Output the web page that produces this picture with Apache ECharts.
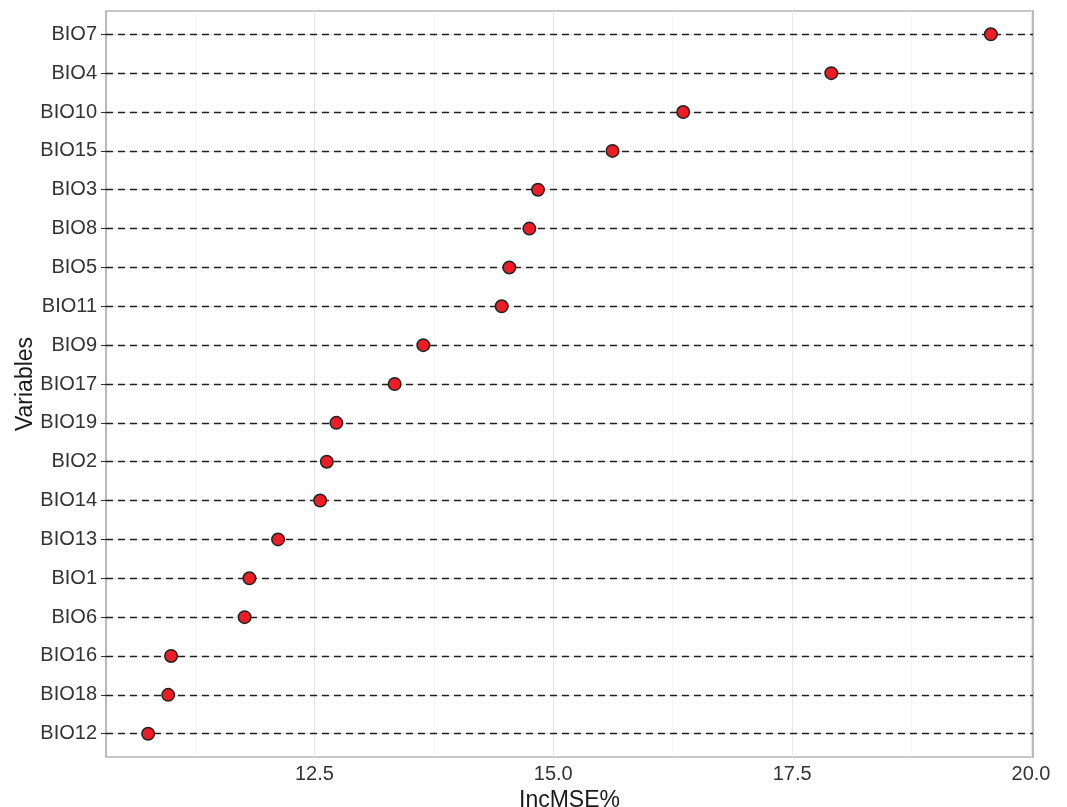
<!DOCTYPE html>
<html>
<head>
<meta charset="utf-8">
<script src="https://cdn.jsdelivr.net/npm/echarts@6/dist/echarts.min.js"></script>
<style>
  html, body { margin: 0; padding: 0; background: #fff; }
  #chart { width: 1067px; height: 807px; }
</style>
</head>
<body>
<div id="chart"></div>
<script>
// variables, top to bottom
const variables = ['BIO7', 'BIO4', 'BIO10', 'BIO15', 'BIO3', 'BIO8', 'BIO5', 'BIO11', 'BIO9', 'BIO17',
  'BIO19', 'BIO2', 'BIO14', 'BIO13', 'BIO1', 'BIO6', 'BIO16', 'BIO18', 'BIO12'];
const incMSE = [19.58, 17.91, 16.36, 15.62, 14.84, 14.75, 14.54, 14.46, 13.64, 13.34,
  12.73, 12.63, 12.56, 12.12, 11.82, 11.77, 11.00, 10.97, 10.76];
const xTicks = [12.5, 15, 17.5, 20];
const xMinorTicks = [11.25, 13.75, 16.25, 18.75];

const font = 'Liberation Sans, Arial, Helvetica, sans-serif';
const idx = variables.map((_, i) => i);

// ggplot-like 5% expansion on x, 0.6 on the discrete y
const lo = Math.min(...incMSE), hi = Math.max(...incMSE);
const pad = (hi - lo) * 0.05;

const lineMark = (z, data) => ({
  z: z,
  symbol: ['none', 'none'],
  silent: true,
  animation: false,
  label: { show: false },
  emphasis: { disabled: true },
  data: data,
});

const myChart = echarts.init(document.getElementById('chart'));

const option = {
  animation: false,
  grid: {
    left: 106, right: 34, top: 11, bottom: 50,
    outerBoundsMode: 'none',
    containLabel: false,
    show: true,
    borderColor: '#8f8f8f',
    borderWidth: 1.2,
    backgroundColor: 'transparent',
  },
  xAxis: {
    type: 'value',
    min: lo - pad,
    max: hi + pad,
    name: 'IncMSE%',
    nameLocation: 'middle',
    nameGap: 25,
    nameTextStyle: { fontFamily: font, fontSize: 23, color: '#1a1a1a' },
    axisLine: { show: false },
    axisTick: {
      show: true, length: 5, customValues: xTicks,
      lineStyle: { color: '#333', width: 1 },
    },
    axisLabel: {
      customValues: xTicks,
      formatter: (v) => v.toFixed(1),
      fontFamily: font, fontSize: 20, color: '#333', margin: 7,
    },
    splitLine: { show: false },
  },
  yAxis: {
    type: 'value',
    inverse: true,
    min: -0.6,
    max: variables.length - 1 + 0.6,
    name: 'Variables',
    nameLocation: 'middle',
    nameGap: 69,
    nameMoveOverlap: false,
    nameTextStyle: { fontFamily: font, fontSize: 23, color: '#1a1a1a' },
    axisLine: { show: false },
    axisTick: {
      show: true, length: 5, customValues: idx,
      lineStyle: { color: '#333', width: 1 },
    },
    axisLabel: {
      customValues: idx,
      formatter: (v) => variables[Math.round(v)],
      fontFamily: font, fontSize: 20, color: '#333', margin: 9,
    },
    splitLine: { show: false },
  },
  series: [
    {
      // panel grid
      type: 'scatter',
      data: [],
      z: 1,
      markLine: lineMark(1,
        xMinorTicks.map((v) => ({ xAxis: v, lineStyle: { color: '#f0f0f0', width: 0.6, type: 'solid' } }))
          .concat(xTicks.map((v) => ({ xAxis: v, lineStyle: { color: '#e6e6e6', width: 1, type: 'solid' } })))
          .concat(idx.map((i) => ({ yAxis: i, lineStyle: { color: '#e6e6e6', width: 1.2, type: 'solid' } })))
      ),
    },
    {
      // dashed guide per variable
      type: 'scatter',
      data: [],
      z: 2,
      markLine: lineMark(2,
        idx.map((i) => ({ yAxis: i, lineStyle: { color: '#1f1f1f', width: 1.4, type: [7, 5] } }))
      ),
    },
    {
      type: 'scatter',
      z: 10,
      symbol: 'circle',
      symbolSize: 12.5,
      itemStyle: { color: '#ee1d25', borderColor: '#222', borderWidth: 1.5, opacity: 1 },
      data: incMSE.map((v, i) => [v, i]),
    },
  ],
};

myChart.setOption(option);
</script>
</body>
</html>
